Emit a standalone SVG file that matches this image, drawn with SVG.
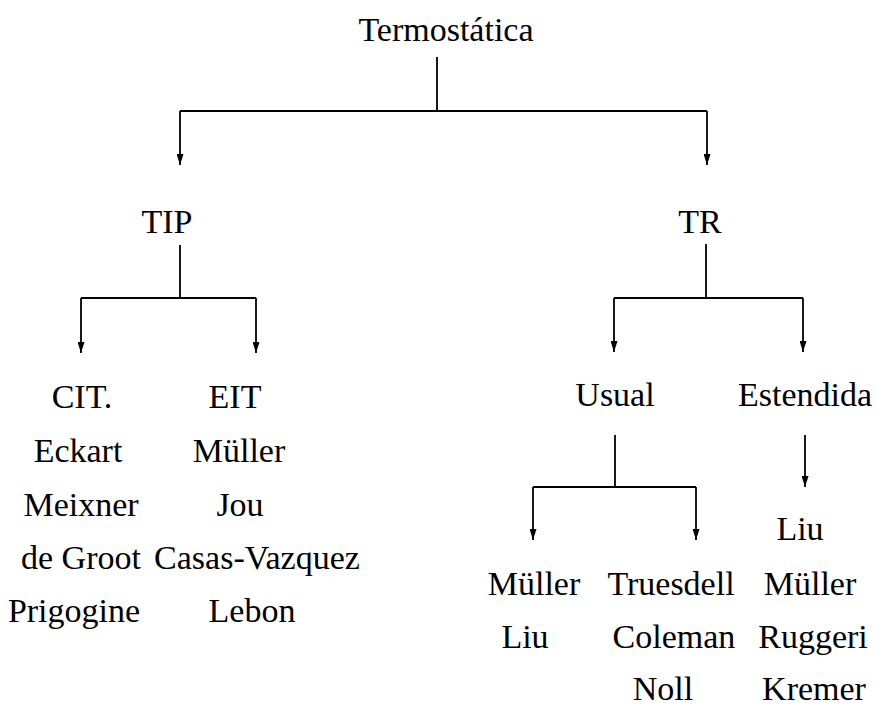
<svg xmlns="http://www.w3.org/2000/svg" width="878" height="706" viewBox="0 0 878 706">
<style>
  .t { font-family: 'Liberation Serif', 'DejaVu Serif', serif; font-size: 34px; fill: #000; text-anchor: middle; }
  .c { fill: none; stroke: #000; stroke-width: 1.8; }
  .a { marker-end: url(#arr); }
</style>
<defs>
  <marker id="arr" viewBox="0 0 11 7" refX="11" refY="3.5" markerWidth="11" markerHeight="7" markerUnits="userSpaceOnUse" orient="auto">
    <path d="M0,0 L11,3.5 L0,7 z" fill="#000"/>
  </marker>
</defs>
<rect width="878" height="706" fill="#fff"/>
<g id="connectors">
  <path class="c" d="M437,57 V111 M180,111 H707"/>
  <path class="c a" d="M180,111 V165"/>
  <path class="c a" d="M707,111 V165"/>
  <path class="c" d="M180,245 V298 M81,298 H256"/>
  <path class="c a" d="M81,298 V353"/>
  <path class="c a" d="M256,298 V353"/>
  <path class="c" d="M706,244 V298 M614,298 H803"/>
  <path class="c a" d="M614,298 V352"/>
  <path class="c a" d="M803,298 V352"/>
  <path class="c" d="M615,435 V487 M533,487 H696"/>
  <path class="c a" d="M533,487 V540"/>
  <path class="c a" d="M696,487 V540"/>
  <path class="c a" d="M805,435 V487"/>
</g>
<g class="t">
<g id="termostatica"><text x="446" y="41">Termostática</text></g>
<g id="tip"><text x="167" y="233">TIP</text></g>
<g id="tr"><text x="700" y="233">TR</text></g>
<g id="cit">
  <text x="82" y="408">CIT.</text>
  <text x="78" y="462">Eckart</text>
  <text x="81" y="516">Meixner</text>
  <text x="81" y="569">de Groot</text>
  <text x="74" y="622">Prigogine</text>
</g>
<g id="eit">
  <text x="235" y="408">EIT</text>
  <text x="239" y="462">Müller</text>
  <text x="240" y="516">Jou</text>
  <text x="257" y="569">Casas-Vazquez</text>
  <text x="252" y="622">Lebon</text>
</g>
<g id="usual"><text x="615" y="406">Usual</text></g>
<g id="estendida"><text x="805" y="406">Estendida</text></g>
<g id="usual-a">
  <text x="534" y="595">Müller</text>
  <text x="525" y="648">Liu</text>
</g>
<g id="usual-b">
  <text x="671" y="595">Truesdell</text>
  <text x="674" y="648">Coleman</text>
  <text x="663" y="700">Noll</text>
</g>
<g id="estendida-list">
  <text x="800" y="540">Liu</text>
  <text x="810" y="595">Müller</text>
  <text x="813" y="648">Ruggeri</text>
  <text x="814" y="700">Kremer</text>
</g>
</g>
</svg>
